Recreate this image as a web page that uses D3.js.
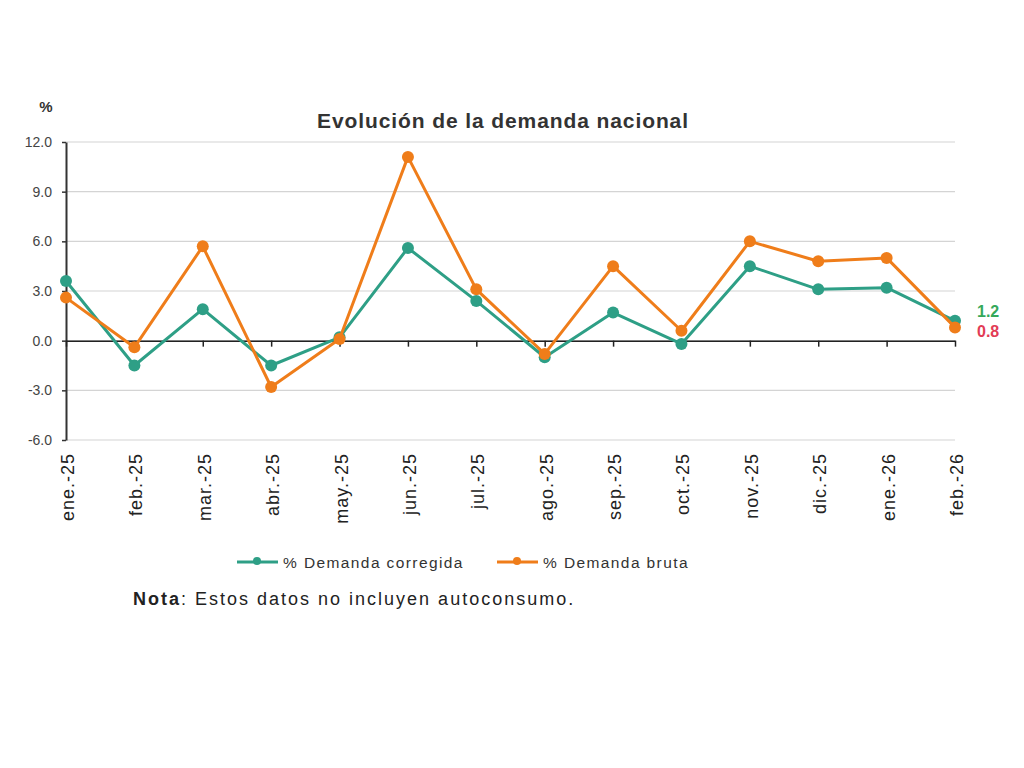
<!DOCTYPE html>
<html>
<head>
<meta charset="utf-8">
<script src="https://cdn.jsdelivr.net/npm/d3@7"></script>
<style>
  body { margin: 0; background: #fff; }
  svg { font-family: "Liberation Sans", Arial, sans-serif; }
</style>
</head>
<body>
<div id="chart"></div>
<script>
// chart data
var months = ["ene.-25", "feb.-25", "mar.-25", "abr.-25", "may.-25", "jun.-25", "jul.-25",
  "ago.-25", "sep.-25", "oct.-25", "nov.-25", "dic.-25", "ene.-26", "feb.-26"];
var corregida = [3.6, -1.5, 1.9, -1.5, 0.2, 5.6, 2.4, -1.0, 1.7, -0.2, 4.5, 3.1, 3.2, 1.2];
var bruta = [2.6, -0.4, 5.7, -2.8, 0.1, 11.1, 3.1, -0.8, 4.5, 0.6, 6.0, 4.8, 5.0, 0.8];
var yTicks = [12, 9, 6, 3, 0, -3, -6];

var green = "#2e9f86", orange = "#ef7d1a";

var svg = d3.select("#chart").append("svg")
  .attr("width", 1024)
  .attr("height", 768);

var margin = { left: 66, right: 69, top: 142, bottom: 328 };
var width = 1024 - margin.left - margin.right;
var height = 768 - margin.top - margin.bottom;

var x = d3.scalePoint().domain(months).range([0, width]);
var y = d3.scaleLinear().domain([-6, 12]).range([height, 0]);

var g = svg.append("g").attr("transform", "translate(" + margin.left + "," + margin.top + ")");

// gridlines
g.selectAll(".grid").data(yTicks).enter().append("line")
  .attr("x1", 0).attr("x2", width)
  .attr("y1", function (d) { return y(d); })
  .attr("y2", function (d) { return y(d); })
  .attr("stroke", "#d4d4d4").attr("stroke-width", 1.2);

// y axis (plain hyphen for negatives, like the original)
var yAxis = g.append("g")
  .call(d3.axisLeft(y).tickValues(yTicks).tickFormat(function (d) { return d.toFixed(1); })
    .tickSize(4).tickSizeOuter(0));
yAxis.select(".domain").attr("stroke", "#333").attr("stroke-width", 2);
yAxis.selectAll(".tick line").attr("stroke", "#333").attr("stroke-width", 1.5);
yAxis.selectAll("text").attr("font-size", 14).attr("fill", "#444").attr("dx", -7);

// zero axis with ticks
var xAxis = g.append("g")
  .attr("transform", "translate(0," + y(0) + ")")
  .call(d3.axisBottom(x).tickSize(6).tickSizeOuter(0).tickFormat(""));
xAxis.select(".domain").attr("stroke", "#222").attr("stroke-width", 1.5);
xAxis.selectAll(".tick line").attr("stroke", "#222").attr("stroke-width", 1.5);

// month labels along bottom
g.selectAll(".mlabel").data(months).enter().append("text")
  .attr("transform", function (d) { return "translate(" + (x(d) + 8) + "," + (height + 13) + ") rotate(-90)"; })
  .attr("text-anchor", "end")
  .attr("font-size", 18)
  .attr("letter-spacing", 1)
  .attr("fill", "#222")
  .text(function (d) { return d; });

// lines
function drawSeries(vals, color) {
  var line = d3.line()
    .x(function (d, i) { return x(months[i]); })
    .y(function (d) { return y(d); });
  g.append("path").datum(vals)
    .attr("d", line)
    .attr("fill", "none")
    .attr("stroke", color)
    .attr("stroke-width", 3)
    .attr("stroke-linejoin", "round");
  g.selectAll(null).data(vals).enter().append("circle")
    .attr("cx", function (d, i) { return x(months[i]); })
    .attr("cy", function (d) { return y(d); })
    .attr("r", 6)
    .attr("fill", color);
}
drawSeries(corregida, green);
drawSeries(bruta, orange);

// end labels
var last = months.length - 1;
g.append("text")
  .attr("x", width + 22).attr("y", y(corregida[last]) - 4)
  .attr("font-size", 16).attr("font-weight", "bold").attr("fill", "#35a85a")
  .text(corregida[last].toFixed(1));
g.append("text")
  .attr("x", width + 22).attr("y", y(bruta[last]) + 10)
  .attr("font-size", 16).attr("font-weight", "bold").attr("fill", "#e23c55")
  .text(bruta[last].toFixed(1));

// title and unit
svg.append("text")
  .attr("x", 503).attr("y", 128)
  .attr("text-anchor", "middle")
  .attr("font-size", 21).attr("font-weight", "bold").attr("fill", "#333")
  .attr("letter-spacing", 0.9)
  .text("Evolución de la demanda nacional");
svg.append("text")
  .attr("x", 46).attr("y", 112)
  .attr("text-anchor", "middle")
  .attr("font-size", 15).attr("font-weight", "bold").attr("fill", "#333")
  .text("%");

// legend
var legend = [
  { name: "% Demanda corregida", color: green, x: 237 },
  { name: "% Demanda bruta", color: orange, x: 497 }
];
var lg = svg.selectAll(".leg").data(legend).enter().append("g")
  .attr("transform", function (d) { return "translate(" + d.x + ",562)"; });
lg.append("line").attr("x1", 0).attr("x2", 41).attr("y1", 0).attr("y2", 0)
  .attr("stroke", function (d) { return d.color; }).attr("stroke-width", 3);
lg.append("circle").attr("cx", 20).attr("cy", -1).attr("r", 4)
  .attr("fill", function (d) { return d.color; });
lg.append("text").attr("x", 46).attr("y", 6)
  .attr("font-size", 15.5).attr("fill", "#333")
  .attr("letter-spacing", 1.4)
  .text(function (d) { return d.name; });

// note
var note = svg.append("text")
  .attr("x", 133).attr("y", 605)
  .attr("font-size", 18).attr("fill", "#222")
  .attr("letter-spacing", 2);
note.append("tspan").attr("font-weight", "bold").text("Nota");
note.append("tspan").text(": Estos datos no incluyen autoconsumo.");
</script>
</body>
</html>
